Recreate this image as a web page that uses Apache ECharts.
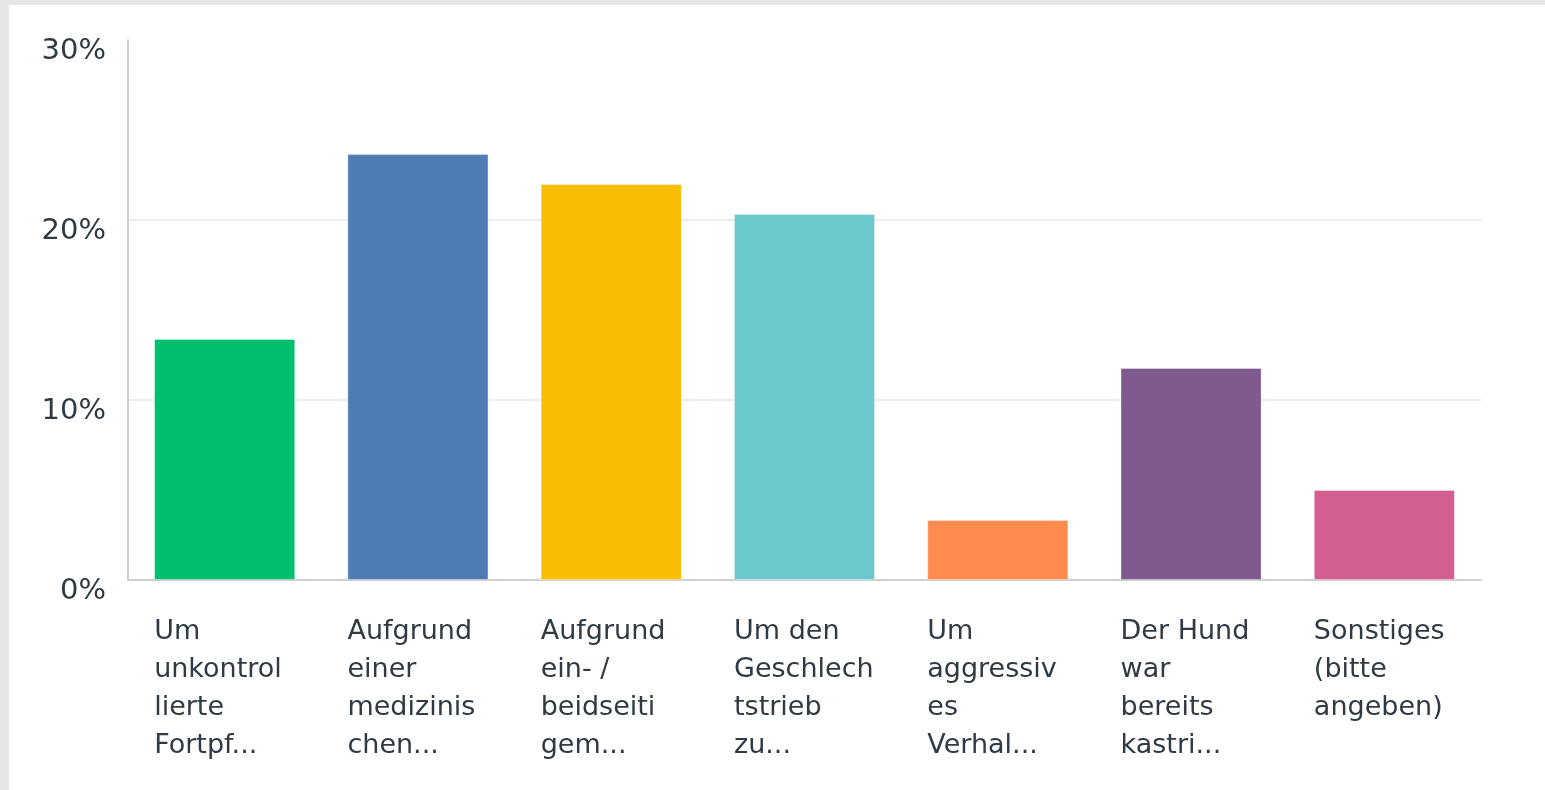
<!DOCTYPE html>
<html>
<head>
<meta charset="utf-8">
<script src="https://cdn.jsdelivr.net/npm/echarts@6/dist/echarts.min.js"></script>
<style>
  html, body { margin: 0; padding: 0; background: #e6e6e6; width: 1545px; height: 790px; overflow: hidden; }
  #chart { position: absolute; left: 9px; top: 5px; width: 1536px; height: 785px; background: #ffffff; }
</style>
</head>
<body>
<div id="chart"></div>
<script>
const categories = [
  "Um\nunkontrol\nlierte\nFortpf...",
  "Aufgrund\neiner\nmedizinis\nchen...",
  "Aufgrund\nein- /\nbeidseiti\ngem...",
  "Um den\nGeschlech\ntstrieb\nzu...",
  "Um\naggressiv\nes\nVerhal...",
  "Der Hund\nwar\nbereits\nkastri...",
  "Sonstiges\n(bitte\nangeben)"
];
const values = [13.39, 23.66, 22.0, 20.33, 3.33, 11.78, 5.0];
const yTicks = [0, 10, 20, 30];
const palette = ["#00BF6F", "#507CB6", "#F9BE00", "#6BC8CD", "#FF8B4F", "#7F5A8F", "#D25F90"];

const chart = echarts.init(document.getElementById('chart'), null, { renderer: 'canvas' });
chart.setOption({
  animation: false,
  color: palette,
  grid: { left: 119, top: 35, right: 64, bottom: 210, containLabel: false },
  xAxis: {
    type: 'category',
    data: categories,
    axisLine: { show: true, lineStyle: { color: '#d0d0d0', width: 2 } },
    axisTick: { show: false },
    axisLabel: {
      interval: 0,
      margin: 33,
      color: '#333e48',
      fontFamily: 'DejaVu Sans',
      fontSize: 27,
      lineHeight: 38,
      align: 'center',
      formatter: function (v) {
        return v.split('\n').map(function (l) { return '{a|' + l + '}'; }).join('\n');
      },
      rich: {
        a: { width: 141, align: 'left', fontFamily: 'DejaVu Sans', fontSize: 27, lineHeight: 38, color: '#2f3a44' }
      }
    }
  },
  yAxis: {
    type: 'value',
    min: yTicks[0],
    max: yTicks[yTicks.length - 1],
    interval: 10,
    axisLine: { show: true, lineStyle: { color: '#d0d0d0', width: 2 } },
    axisTick: { show: false },
    splitLine: { show: true, lineStyle: { color: ['rgba(0,0,0,0)', '#ececec', '#ececec', 'rgba(0,0,0,0)'], width: 2 } },
    axisLabel: {
      margin: 22,
      color: '#2f3a44',
      fontFamily: 'DejaVu Sans',
      fontSize: 29,
      lineHeight: 22,
      verticalAlign: 'top',
      formatter: function (v) { return v + '%'; }
    }
  },
  series: [{
    type: 'bar',
    data: values,
    colorBy: 'data',
    barWidth: '73%',
    itemStyle: { borderColor: 'rgba(255,255,255,0.35)', borderWidth: 1 }
  }]
});
</script>
</body>
</html>
